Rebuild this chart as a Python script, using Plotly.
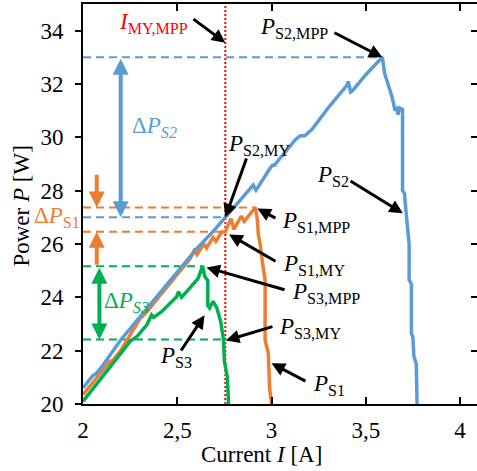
import plotly.graph_objects as go

# ---------------- data ----------------
I_s2 = [2.00, 2.05, 2.07, 2.10, 2.20, 2.30, 2.40, 2.50, 2.60, 2.70, 2.755, 2.85, 2.903, 2.918,
        2.95, 2.992, 3.005, 3.015, 3.125, 3.151, 3.178, 3.215, 3.30, 3.40, 3.407, 3.42, 3.43,
        3.50, 3.588, 3.60, 3.62, 3.64, 3.655, 3.665, 3.67, 3.68, 3.695, 3.695, 3.705, 3.708,
        3.715, 3.73, 3.73, 3.742, 3.742, 3.75, 3.755, 3.768, 3.772]
P_s2 = [20.6, 21.05, 21.15, 21.4, 22.4, 23.25, 24.1, 24.95, 25.8, 26.55, 27.0, 27.75, 28.21, 28.02,
        28.4, 28.84, 28.95, 28.95, 29.9, 30.05, 30.07, 30.3, 31.1, 31.95, 32.1, 31.7, 31.75,
        32.35, 33.0, 32.4, 31.95, 31.5, 31.0, 31.15, 30.85, 31.1, 31.05, 28.0, 27.9, 27.6,
        27.1, 26.0, 24.65, 24.5, 22.65, 22.5, 21.8, 21.5, 20.0]

I_s1 = [2.00, 2.05, 2.10, 2.143, 2.16, 2.20, 2.302, 2.338, 2.40, 2.50, 2.568, 2.59, 2.605, 2.64,
        2.655, 2.69, 2.705, 2.735, 2.755, 2.785, 2.80, 2.84, 2.855, 2.915, 2.925, 2.93, 2.94,
        2.952, 2.966, 2.966, 2.983, 2.99, 3.00]
P_s1 = [20.35, 20.8, 21.25, 21.6, 21.65, 22.0, 23.2, 23.45, 24.0, 24.85, 25.45, 25.75, 25.6, 26.0,
        25.85, 26.25, 26.1, 26.45, 26.46, 26.95, 26.55, 27.05, 26.85, 27.37, 26.9, 26.35, 26.0,
        25.3, 24.65, 22.4, 21.9, 20.6, 20.0]

I_s3 = [2.00, 2.10, 2.20, 2.25, 2.285, 2.31, 2.338, 2.364, 2.375, 2.417, 2.45, 2.497, 2.506, 2.523,
        2.56, 2.594, 2.61, 2.62, 2.635, 2.645, 2.662, 2.662, 2.672, 2.69, 2.71, 2.73, 2.745,
        2.75, 2.766, 2.772]
P_s3 = [20.1, 21.0, 21.9, 22.35, 22.52, 22.75, 22.96, 23.34, 23.25, 23.46, 23.7, 24.02, 24.21, 24.0,
        24.3, 24.59, 24.7, 24.9, 25.17, 24.8, 24.62, 23.7, 23.6, 23.85, 23.6, 23.1, 22.42,
        21.6, 21.0, 20.0]

I_MY = 2.755
I_S2_MPP, P_S2_MPP = 3.588, 33.0
P_S2_MY = 27.0
I_S1_MPP, P_S1_MPP = 2.915, 27.37
P_S1_MY = 26.46
I_S3_MPP, P_S3_MPP = 2.635, 25.17
P_S3_MY = 22.42

x_tickvals = [2, 2.5, 3, 3.5, 4]
x_ticktext = ["2", "2,5", "3", "3,5", "4"]
y_tickvals = [20, 22, 24, 26, 28, 30, 32, 34]

BLUE = "#5B9BD5"
ORANGE = "#ED7D31"
GREEN = "#00B050"
RED = "#FF0000"
FONT = "Liberation Serif, Times New Roman, serif"

fig = go.Figure()

# dashed reference lines
dash = "8px,5px"
for xe, yv, c in [(I_S2_MPP, P_S2_MPP, BLUE), (I_S1_MPP, P_S1_MPP, ORANGE), (I_MY, P_S2_MY, BLUE),
                  (I_MY, P_S1_MY, ORANGE), (I_S3_MPP, P_S3_MPP, GREEN), (I_MY, P_S3_MY, GREEN)]:
    fig.add_trace(go.Scatter(x=[2, xe], y=[yv, yv], mode="lines",
                             line=dict(color=c, width=2, dash=dash), hoverinfo="skip"))

# red dotted vertical
fig.add_trace(go.Scatter(x=[I_MY, I_MY], y=[20, 35], mode="lines",
                         line=dict(color=RED, width=2, dash="2px,2px"), hoverinfo="skip"))

# curves
fig.add_trace(go.Scatter(x=I_s1, y=P_s1, mode="lines", line=dict(color=ORANGE, width=3.5)))
fig.add_trace(go.Scatter(x=I_s3, y=P_s3, mode="lines", line=dict(color=GREEN, width=3.5)))
fig.add_trace(go.Scatter(x=I_s2, y=P_s2, mode="lines", line=dict(color=BLUE, width=3.5)))

# invisible trace for right-side tick axis
fig.add_trace(go.Scatter(x=[2], y=[20], yaxis="y2", mode="markers",
                         marker=dict(opacity=0), hoverinfo="skip"))

ann = []


def arrow(x, y, ax, ay, color="black", width=3, size=0.9, both=False):
    d = dict(x=x, y=y, ax=ax, ay=ay, xref="x", yref="y", axref="x", ayref="y",
             text="", showarrow=True, arrowhead=2, arrowsize=size, arrowwidth=width,
             arrowcolor=color)
    if both:
        d.update(arrowside="end+start", startarrowhead=2, startarrowsize=size)
    ann.append(d)


def label(x, y, text, xanchor="left", color="black", xref="x", size=23):
    ann.append(dict(x=x, y=y, xref=xref, yref="y", text=text, showarrow=False,
                    xanchor=xanchor, yanchor="middle",
                    font=dict(family=FONT, size=size, color=color)))


# black pointer arrows + labels
arrow(I_MY, 33.55, 2.578, 34.475)
label(2.5676, 34.28, "<i>I</i><sub>MY,MPP</sub>", xanchor="right", color=RED)

arrow(I_S2_MPP, P_S2_MPP, 3.326, 33.95)
label(3.31, 34.1, "<i>P</i><sub>S2,MPP</sub>", xanchor="right")

arrow(I_MY, P_S2_MY, 2.870, 29.26)
label(2.759, 29.71, "<i>P</i><sub>S2,MY</sub>")

arrow(2.925, 27.33, 3.029, 26.94)
label(3.045, 26.82, "<i>P</i><sub>S1,MPP</sub>")

arrow(2.775, 26.36, 3.029, 25.32)
label(3.05, 25.21, "<i>P</i><sub>S1,MY</sub>")

arrow(2.655, 25.12, 3.077, 24.27)
label(3.098, 24.16, "<i>P</i><sub>S3,MPP</sub>")

arrow(2.758, 22.38, 3.013, 22.92)
label(3.029, 22.85, "<i>P</i><sub>S3,MY</sub>")

arrow(3.0, 21.53, 3.188, 20.83)
label(3.21, 20.71, "<i>P</i><sub>S1</sub>")

arrow(2.645, 23.33, 2.515, 21.95)
label(2.589, 21.76, "<i>P</i><sub>S3</sub>", xanchor="right")

arrow(3.697, 27.15, 3.411, 28.4)
label(3.231, 28.55, "<i>P</i><sub>S2</sub>")

# delta arrows
arrow(2.2, P_S2_MY, 2.2, P_S2_MPP, color=BLUE, width=4, size=0.8, both=True)
label(2.249, 30.39, "Δ<i>P</i><sub><i>S2</i></sub>", color=BLUE)

arrow(2.073, P_S1_MPP, 2.073, 28.65, color=ORANGE, width=4, size=0.8)
arrow(2.073, P_S1_MY, 2.073, P_S3_MPP, color=ORANGE, width=4, size=0.8)
label(-0.003, 27.01, "Δ<i>P</i><sub>S1</sub>", xanchor="right", color=ORANGE, xref="paper")

arrow(2.087, P_S3_MY, 2.087, P_S3_MPP, color=GREEN, width=4, size=0.8, both=True)
label(2.101, 23.83, "Δ<i>P</i><sub><i>S3</i></sub>", color=GREEN)

# axis titles
ann.append(dict(x=0.454, y=-0.125, xref="paper", yref="paper", text="Current <i>I</i> [A]",
                showarrow=False, xanchor="center", yanchor="middle",
                font=dict(family=FONT, size=23, color="black")))
ann.append(dict(x=-0.155, y=0.496, xref="paper", yref="paper", text="Power <i>P</i> [W]",
                showarrow=False, xanchor="center", yanchor="middle", textangle=-90,
                font=dict(family=FONT, size=23, color="black")))

fig.update_layout(
    width=477, height=471,
    margin=dict(l=83, r=0, t=4, b=67),
    paper_bgcolor="white", plot_bgcolor="white",
    showlegend=False,
    annotations=ann,
    font=dict(family=FONT),
    xaxis=dict(range=[2, 4.09], tickvals=x_tickvals, ticktext=x_ticktext,
               ticks="inside", ticklen=7, tickwidth=1.5, tickcolor="black",
               showline=True, linewidth=2, linecolor="black", mirror="ticks",
               showgrid=False, zeroline=False, ticklabelstandoff=4,
               tickfont=dict(family=FONT, size=23, color="black")),
    yaxis=dict(range=[20, 35], tickvals=y_tickvals,
               ticks="outside", ticklen=6, tickwidth=1.5, tickcolor="black",
               showline=True, linewidth=2, linecolor="black", mirror=False,
               showgrid=False, zeroline=False, ticklabelstandoff=7,
               tickfont=dict(family=FONT, size=23, color="black")),
    yaxis2=dict(range=[20, 35], tickvals=y_tickvals, overlaying="y", side="right",
                ticks="inside", ticklen=6, tickwidth=1.5, tickcolor="black",
                showticklabels=False, showline=False, showgrid=False, zeroline=False),
)

fig.write_html("out.html")
